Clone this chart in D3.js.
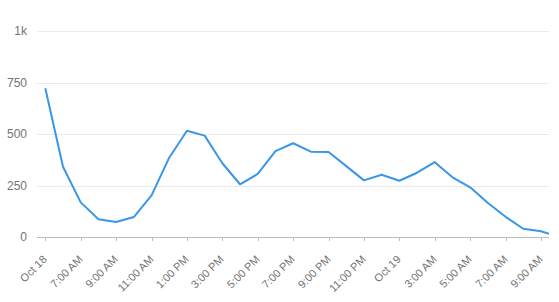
<!DOCTYPE html>
<html>
<head>
<meta charset="utf-8">
<script src="https://cdn.jsdelivr.net/npm/d3@7"></script>
<style>
  body { margin: 0; background: #fff; }
  svg { display: block; font-family: "Liberation Sans", Arial, sans-serif; }
  .grid line { stroke: #ebebeb; }
  .tick-label { fill: #737373; font-size: 12px; }
  .xt text { font-size: 11px; }
</style>
</head>
<body>
<script>
// hourly counts, starting at the "Oct 18" tick
const values = [722, 341, 168, 86, 73, 97, 202, 385, 516, 492, 358, 256, 306, 417, 455, 414, 413, 344,
  275, 302, 273, 312, 363, 290, 241, 165, 98, 40, 28, 1];
const xTickLabels = ['Oct 18', '7:00 AM', '9:00 AM', '11:00 AM', '1:00 PM', '3:00 PM', '5:00 PM', '7:00 PM',
  '9:00 PM', '11:00 PM', 'Oct 19', '3:00 AM', '5:00 AM', '7:00 AM', '9:00 AM'];
const yTicks = [0, 250, 500, 750, 1000];
const yTickLabels = ['0', '250', '500', '750', '1k'];

const w = 559, h = 302;
const plot = { left: 37, right: 549, top: 31, bottom: 237 };

const svg = d3.select('body').append('svg')
  .attr('width', w)
  .attr('height', h);

const x = d3.scaleLinear().domain([0, 28]).range([45.3, 541]);
const y = d3.scaleLinear().domain([0, 1000]).range([plot.bottom, plot.top]);

// gridlines
svg.append('g').attr('class', 'grid')
  .selectAll('line')
  .data(yTicks.slice(1))
  .enter().append('line')
  .attr('x1', plot.left).attr('x2', plot.right)
  .attr('y1', d => Math.round(y(d)) + 0.5)
  .attr('y2', d => Math.round(y(d)) + 0.5);

// y labels
svg.selectAll('.ylab')
  .data(yTicks)
  .enter().append('text')
  .attr('class', 'tick-label ylab')
  .attr('x', 27)
  .attr('y', d => y(d))
  .attr('dy', '0.35em')
  .style('text-anchor', 'end')
  .text((d, i) => yTickLabels[i]);

// x axis line + ticks
svg.append('line')
  .attr('x1', plot.left).attr('x2', plot.right)
  .attr('y1', plot.bottom + 0.5).attr('y2', plot.bottom + 0.5)
  .attr('stroke', '#bdbdbd');

const xt = svg.selectAll('.xt')
  .data(xTickLabels)
  .enter().append('g')
  .attr('class', 'xt')
  .attr('transform', (d, i) => `translate(${Math.round(x(i * 2)) + 0.5}, ${plot.bottom})`);

xt.append('line')
  .attr('y1', 0).attr('y2', 4)
  .attr('stroke', '#bdbdbd');

xt.append('text')
  .attr('class', 'tick-label')
  .attr('transform', 'translate(2, 23) rotate(-45)')
  .style('text-anchor', 'end')
  .text(d => d);

// line
svg.append('clipPath').attr('id', 'clip')
  .append('rect')
  .attr('x', plot.left).attr('y', 0)
  .attr('width', plot.right - plot.left).attr('height', h);

const line = d3.line()
  .x((d, i) => x(i))
  .y(d => y(d));

svg.append('path')
  .datum(values)
  .attr('clip-path', 'url(#clip)')
  .attr('fill', 'none')
  .attr('stroke', '#3a96e9')
  .attr('stroke-width', 2)
  .attr('stroke-linejoin', 'round')
  .attr('d', line);
</script>
</body>
</html>
